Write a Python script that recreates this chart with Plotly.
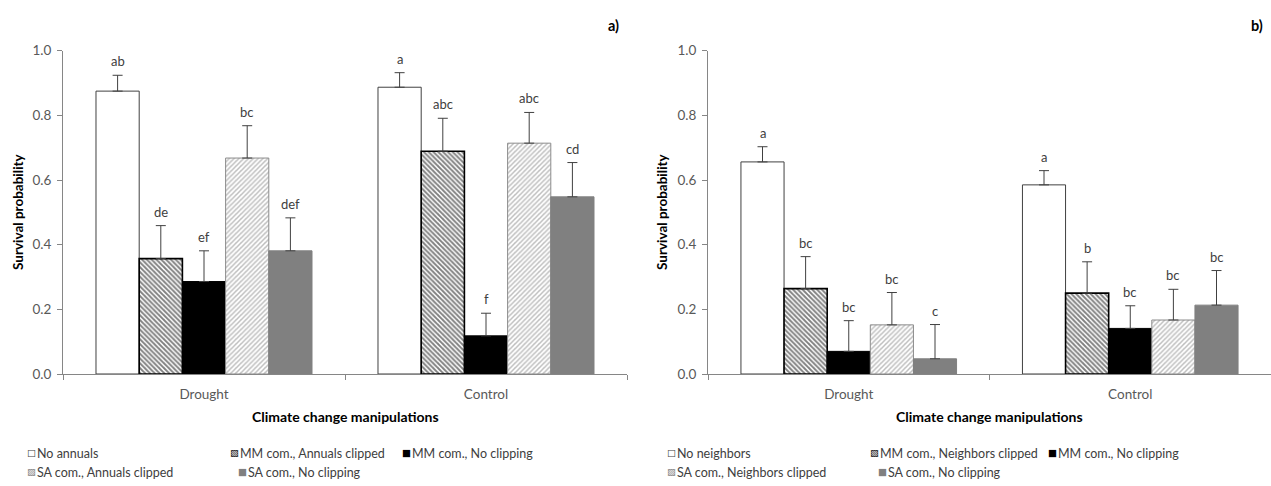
import plotly.graph_objects as go

# ---------------- data ----------------
categories = ["Drought", "Control"]

series_a = ["No annuals", "MM com., Annuals clipped", "MM com., No clipping",
            "SA com., Annuals clipped", "SA com., No clipping"]
series_b = ["No neighbors", "MM com., Neighbors clipped", "MM com., No clipping",
            "SA com., Neighbors clipped", "SA com., No clipping"]

# panel a) values [Drought, Control]
a_no_annuals = [0.875, 0.887]
a_mm_clipped = [0.357, 0.689]
a_mm_noclip = [0.286, 0.118]
a_sa_clipped = [0.668, 0.714]
a_sa_noclip = [0.381, 0.548]

a_err_no_annuals = [0.049, 0.045]
a_err_mm_clipped = [0.102, 0.102]
a_err_mm_noclip = [0.095, 0.070]
a_err_sa_clipped = [0.100, 0.095]
a_err_sa_noclip = [0.102, 0.106]

a_let_no_annuals = ["ab", "a"]
a_let_mm_clipped = ["de", "abc"]
a_let_mm_noclip = ["ef", "f"]
a_let_sa_clipped = ["bc", "abc"]
a_let_sa_noclip = ["def", "cd"]

# panel b) values [Drought, Control]
b_no_neighbors = [0.656, 0.585]
b_mm_clipped = [0.264, 0.250]
b_mm_noclip = [0.070, 0.141]
b_sa_clipped = [0.152, 0.167]
b_sa_noclip = [0.047, 0.213]

b_err_no_neighbors = [0.047, 0.044]
b_err_mm_clipped = [0.099, 0.097]
b_err_mm_noclip = [0.095, 0.070]
b_err_sa_clipped = [0.100, 0.095]
b_err_sa_noclip = [0.106, 0.107]

b_let_no_neighbors = ["a", "a"]
b_let_mm_clipped = ["bc", "b"]
b_let_mm_noclip = ["bc", "bc"]
b_let_sa_clipped = ["bc", "bc"]
b_let_sa_noclip = ["c", "bc"]

y_ticks = [0.0, 0.2, 0.4, 0.6, 0.8, 1.0]

# ---------------- styles ----------------
FONT = "Lato"
W, H = 1271, 486
BARGAP = 0.234
styles = [
    dict(color="white", line=dict(color="#404040", width=1)),
    dict(color="white", line=dict(color="black", width=1.6),
         pattern=dict(shape="\\", fgcolor="black", bgcolor="white", size=3.4, solidity=0.55)),
    dict(color="black", line=dict(color="black", width=1)),
    dict(color="white", line=dict(color="#8c8c8c", width=1),
         pattern=dict(shape="/", fgcolor="#7f7f7f", bgcolor="white", size=3.4, solidity=0.45)),
    dict(color="#808080", line=dict(color="#808080", width=1)),
]
# legend key glyphs (text symbols) and their colours
key_glyphs = ["\u25A1", "\u25A7", "\u25A0", "\u25A8", "\u25A0"]
key_colors = ["#404040", "#000000", "#000000", "#7f7f7f", "#808080"]
key_rows = [0, 0, 0, 1, 1]
row_y = [453, 472]

panels = [
    dict(names=series_a,
         vals=[a_no_annuals, a_mm_clipped, a_mm_noclip, a_sa_clipped, a_sa_noclip],
         errs=[a_err_no_annuals, a_err_mm_clipped, a_err_mm_noclip, a_err_sa_clipped, a_err_sa_noclip],
         lets=[a_let_no_annuals, a_let_mm_clipped, a_let_mm_noclip, a_let_sa_clipped, a_let_sa_noclip],
         xa="x", ya="y", domain=[63 / W, 627 / W], label="a)", label_x=613,
         key_x=[26, 229, 401, 26, 237], ytitle_x=18),
    dict(names=series_b,
         vals=[b_no_neighbors, b_mm_clipped, b_mm_noclip, b_sa_clipped, b_sa_noclip],
         errs=[b_err_no_neighbors, b_err_mm_clipped, b_err_mm_noclip, b_err_sa_clipped, b_err_sa_noclip],
         lets=[b_let_no_neighbors, b_let_mm_clipped, b_let_mm_noclip, b_let_sa_clipped, b_let_sa_noclip],
         xa="x2", ya="y2", domain=[708 / W, 1.0], label="b)", label_x=1257,
         key_x=[666, 869, 1047, 666, 877], ytitle_x=662),
]

fig = go.Figure()
annotations = []
xpos = list(range(len(categories)))
bw = (1 - BARGAP) / 5

for p in panels:
    for i, name in enumerate(p["names"]):
        st = styles[i]
        marker = dict(color=st["color"], line=st["line"])
        if "pattern" in st:
            marker["pattern"] = st["pattern"]
        fig.add_trace(go.Bar(
            x=xpos, y=p["vals"][i], name=name, marker=marker,
            error_y=dict(type="data", symmetric=False, array=p["errs"][i],
                         arrayminus=[0] * len(categories), color="#404040",
                         thickness=1, width=5),
            xaxis=p["xa"], yaxis=p["ya"], showlegend=False, hoverinfo="skip",
        ))
        for k in range(len(categories)):
            annotations.append(dict(
                x=xpos[k] + (i - 2) * bw, y=p["vals"][i][k] + p["errs"][i][k],
                xref=p["xa"], yref=p["ya"], text=p["lets"][i][k], showarrow=False,
                xanchor="center", yanchor="bottom", yshift=4,
                font=dict(family=FONT, size=13, color="#404040")))
        # legend key + label
        kx = p["key_x"][i]
        ky = (H - row_y[key_rows[i]]) / H
        annotations.append(dict(
            x=kx / W, y=ky, xref="paper", yref="paper", text=key_glyphs[i], showarrow=False,
            xanchor="left", yanchor="middle", borderpad=0, yshift=1,
            font=dict(family="DejaVu Sans", size=9.5, color=key_colors[i])))
        annotations.append(dict(
            x=(kx + 10) / W, y=ky, xref="paper", yref="paper", text=name, showarrow=False,
            xanchor="left", yanchor="middle", borderpad=0,
            font=dict(family=FONT, size=12.5, color="#404040")))
    cx = (p["domain"][0] + p["domain"][1]) / 2
    annotations.append(dict(x=cx, y=(H - 416) / H, xref="paper", yref="paper",
                            xanchor="center", yanchor="middle",
                            text="<b>Climate change manipulations</b>", showarrow=False,
                            font=dict(family=FONT, size=14, color="black")))
    annotations.append(dict(x=p["ytitle_x"] / W, y=(H - 212) / H, xref="paper", yref="paper",
                            xanchor="center", yanchor="middle",
                            text="<b>Survival probability</b>", showarrow=False, textangle=-90,
                            font=dict(family=FONT, size=13.5, color="black")))
    annotations.append(dict(x=p["label_x"] / W, y=(H - 25) / H, xref="paper", yref="paper",
                            xanchor="center", yanchor="middle",
                            text="<b>" + p["label"] + "</b>", showarrow=False,
                            font=dict(family=FONT, size=14.5, color="black")))

axis_common = dict(showline=True, linecolor="#868686", linewidth=1, showgrid=False,
                   zeroline=False, tickfont=dict(family=FONT, size=13.5, color="#595959"))
ydom = [(H - 374) / H, (H - 50.7) / H]

xaxis_cfg = dict(range=[-0.5, 1.5], tickmode="array", tickvals=xpos, ticktext=categories,
                 ticks="", ticklabelstandoff=8,
                 minor=dict(tickmode="array", tickvals=[-0.5, 0.5, 1.5], ticks="outside",
                            ticklen=5, tickcolor="#868686", showgrid=False),
                 **axis_common)
yaxis_cfg = dict(range=[0, 1], tickmode="array", tickvals=y_ticks,
                 ticktext=[f"{v:.1f}" for v in y_ticks], ticks="outside", ticklen=5,
                 tickcolor="#868686", ticklabelstandoff=3, domain=ydom, **axis_common)

fig.update_layout(
    width=W, height=H, barmode="group", bargap=BARGAP, bargroupgap=0,
    plot_bgcolor="white", paper_bgcolor="white",
    margin=dict(l=0, r=0, t=0, b=0, autoexpand=False),
    xaxis=dict(domain=panels[0]["domain"], anchor="y", **xaxis_cfg),
    yaxis=dict(anchor="x", **yaxis_cfg),
    xaxis2=dict(domain=panels[1]["domain"], anchor="y2", **xaxis_cfg),
    yaxis2=dict(anchor="x2", **yaxis_cfg),
    annotations=annotations,
    showlegend=False,
)

fig.write_html("out.html")
